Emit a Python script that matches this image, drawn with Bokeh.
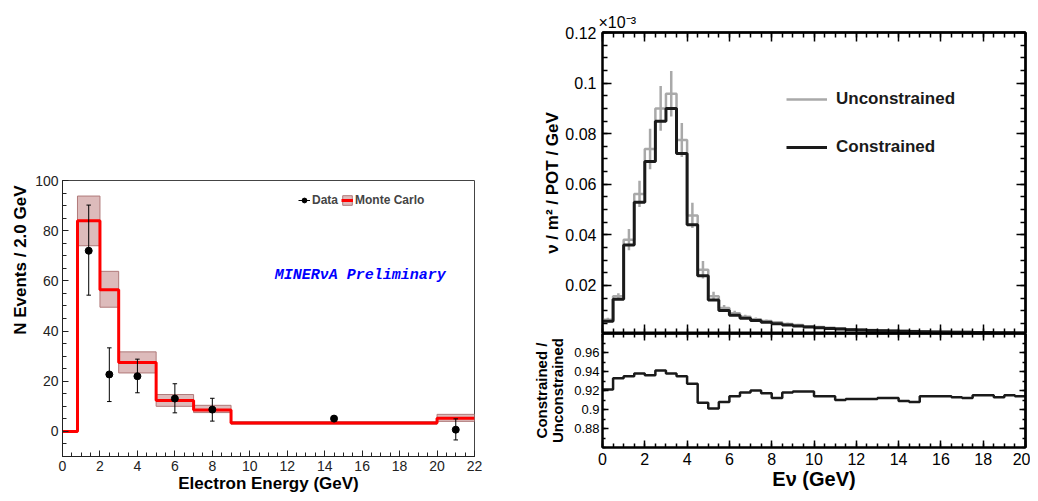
import math
from bokeh.plotting import figure
from bokeh.models import (FixedTicker, LinearAxis, Legend, LegendItem, Range1d, Title, Label)
from bokeh.layouts import row, column
from bokeh.embed import file_html
from bokeh.resources import INLINE

# ---------------- Left panel: electron energy ----------------
mc_edges = [0, 0.8, 2, 3, 5, 7, 9, 20, 22]
mc_values = [0, 84.0, 56.5, 27.5, 12.3, 8.5, 3.4, 5.2]
mc_band_lo = [0, 74.0, 49.5, 23.3, 10.0, 7.5, 2.9, 4.0]
mc_band_hi = [0, 93.8, 63.8, 31.7, 14.7, 10.4, 3.9, 6.8]
data_x = [1.4, 2.5, 4.0, 6.0, 8.0, 14.5, 21.0]
data_y = [72.0, 22.7, 22.0, 13.1, 8.7, 5.1, 0.7]
data_lo = [54.3, 11.9, 15.4, 7.4, 4.1, 4.2, -3.4]
data_hi = [90.2, 33.3, 28.8, 19.0, 13.2, 6.0, 5.0]
left_xticks = [0, 2, 4, 6, 8, 10, 12, 14, 16, 18, 20, 22]
left_yticks = [0, 20, 40, 60, 80, 100]

# ---------------- Right panel: flux ----------------
nu_edges = [0.0, 0.5, 1.0, 1.5, 2.0, 2.5, 3.0, 3.5, 4.0, 4.5, 5.0, 5.5, 6.0, 6.5,
            7.0, 7.5, 8.0, 8.5, 9.0, 9.5, 10.0, 10.5, 11.0, 11.5, 12.0, 12.5, 13.0,
            13.5, 14.0, 14.5, 15.0, 15.5, 16.0, 16.5, 17.0, 17.5, 18.0, 18.5, 19.0,
            19.5, 20.0]
constrained = [0.0058, 0.0145, 0.0360, 0.0529, 0.0690, 0.0849, 0.0900, 0.0722, 0.0440,
               0.0238, 0.0142, 0.0101, 0.0082, 0.0070, 0.0061, 0.0054, 0.0049, 0.0044,
               0.0040, 0.0036, 0.0033, 0.0030, 0.0028, 0.0025, 0.0024, 0.0022, 0.0021,
               0.0020, 0.0019, 0.0018, 0.0017, 0.0016, 0.0016, 0.0015, 0.0015, 0.0014,
               0.0014, 0.0013, 0.0013, 0.0012]
unconstrained = [0.0064, 0.0157, 0.0381, 0.0562, 0.0739, 0.0900, 0.0958, 0.0775, 0.0477,
                 0.0262, 0.0157, 0.0111, 0.0090, 0.0076, 0.0066, 0.0059, 0.0054, 0.0048,
                 0.0044, 0.0039, 0.0036, 0.0033, 0.0031, 0.0027, 0.0026, 0.0024, 0.0023,
                 0.0022, 0.0021, 0.0020, 0.0019, 0.0018, 0.0017, 0.0016, 0.0016, 0.0015,
                 0.0015, 0.0014, 0.0014, 0.0013]
unconstrained_err = [0.0008, 0.0012, 0.0042, 0.0052, 0.0080, 0.0088, 0.0090, 0.0067, 0.0050,
                     0.0035, 0.0018, 0.0012, 0.0010, 0.0008, 0.0007, 0.0006, 0.0005, 0.0005,
                     0.0004, 0.0004, 0.0004, 0.0003, 0.0003, 0.0003, 0.0003, 0.0003, 0.0003,
                     0.0002, 0.0002, 0.0002, 0.0002, 0.0002, 0.0002, 0.0002, 0.0002, 0.0002,
                     0.0002, 0.0002, 0.0002, 0.0002]
ratio = [0.921, 0.933, 0.935, 0.938, 0.936, 0.941, 0.938, 0.935, 0.927, 0.907,
         0.901, 0.908, 0.914, 0.918, 0.920, 0.917, 0.912, 0.918, 0.919, 0.919,
         0.914, 0.914, 0.910, 0.911, 0.911, 0.911, 0.912, 0.912, 0.909, 0.908,
         0.914, 0.914, 0.914, 0.913, 0.912, 0.915, 0.915, 0.913, 0.915, 0.914]
right_xticks = [0, 2, 4, 6, 8, 10, 12, 14, 16, 18, 20]
flux_yticks = [0.02, 0.04, 0.06, 0.08, 0.1, 0.12]
flux_ylabels = ["0.02", "0.04", "0.06", "0.08", "0.1", "0.12"]
ratio_yticks = [0.88, 0.9, 0.92, 0.94, 0.96]
ratio_ylabels = ["0.88", "0.9", "0.92", "0.94", "0.96"]

FONT = "Liberation Sans"
x_minor = [i * 0.5 for i in range(41)]
flux_minor = [0.005 * i for i in range(1, 25)]
ratio_minor = [0.86 + 0.01 * i for i in range(13)]


def style_axis(ax, major_in, minor_in, size, standoff, color="black", lw=1.0, tlw=1.0):
    ax.major_tick_in = major_in
    ax.major_tick_out = 0
    ax.minor_tick_in = minor_in
    ax.minor_tick_out = 0
    ax.major_label_text_font = FONT
    ax.major_label_text_font_size = size
    ax.major_label_text_color = color
    ax.major_label_standoff = standoff
    ax.axis_line_color = color
    ax.axis_line_width = lw
    ax.major_tick_line_color = color
    ax.minor_tick_line_color = color
    ax.major_tick_line_width = tlw
    ax.minor_tick_line_width = tlw
    ax.axis_label_text_font = FONT
    ax.axis_label_text_font_style = "bold"
    ax.axis_label_text_color = color


def tick_only(p, side, majors, minors, major_len, minor_len):
    # label-free axes: majors and minors drawn as two minor-tick sets of different length
    for pos, ln in ((majors, major_len), (minors, minor_len)):
        ax = LinearAxis(ticker=FixedTicker(ticks=[], minor_ticks=pos))
        style_axis(ax, 0, ln, "13px", 0, lw=2, tlw=1.5)
        p.add_layout(ax, side)


# =============== Left figure ===============
p1 = figure(width=530, height=500, x_range=Range1d(0, 22), y_range=Range1d(-10, 100),
            output_backend="svg", toolbar_location=None,
            min_border_left=62, min_border_right=56, min_border_top=180, min_border_bottom=44)
p1.xgrid.visible = False
p1.ygrid.visible = False
p1.outline_line_color = "#444444"
p1.outline_line_width = 1

p1.xaxis.ticker = FixedTicker(ticks=left_xticks, minor_ticks=[i * 0.5 for i in range(45)])
p1.yaxis.ticker = FixedTicker(ticks=left_yticks, minor_ticks=[-10 + 5 * i for i in range(23)])
style_axis(p1.xaxis[0], 6, 4, "14px", 4, color="#222222")
style_axis(p1.yaxis[0], 6, 4, "14px", 4, color="#222222")
p1.xaxis.axis_label = "Electron Energy (GeV)"
p1.xaxis.axis_label_text_font_size = "17px"
p1.xaxis.axis_label_standoff = 0
p1.xaxis.axis_label_text_color = "black"

band = p1.quad(left=mc_edges[1:-1], right=mc_edges[2:], bottom=mc_band_lo[1:], top=mc_band_hi[1:],
               fill_color="#d4aaaa", fill_alpha=0.8, line_color="#b07a7a", line_width=1)
mc_line = p1.step(x=mc_edges, y=mc_values + [mc_values[-1]], mode="after",
                  line_color="#ff0000", line_width=3)
err = p1.segment(x0=data_x, y0=data_lo, x1=data_x, y1=data_hi, line_color="black", line_width=1)
caps_x0 = [x - 0.12 for x in data_x]
caps_x1 = [x + 0.12 for x in data_x]
p1.segment(x0=caps_x0, y0=data_lo, x1=caps_x1, y1=data_lo, line_color="black", line_width=1)
p1.segment(x0=caps_x0, y0=data_hi, x1=caps_x1, y1=data_hi, line_color="black", line_width=1)
pts = p1.scatter(x=data_x, y=data_y, size=7, marker="circle", fill_color="black", line_color="black")

leg1 = Legend(items=[LegendItem(label="Data", renderers=[err, pts]),
                     LegendItem(label="Monte Carlo", renderers=[band, mc_line])],
              orientation="horizontal", location=(236, 249),
              glyph_width=12, glyph_height=12, label_height=12, label_width=10,
              label_standoff=2, spacing=3, padding=0, margin=0,
              border_line_alpha=0, background_fill_alpha=0,
              label_text_font=FONT, label_text_font_size="12px", label_text_font_style="bold")
p1.add_layout(leg1)

p1.add_layout(Label(x=15.9, y=62, text="MINERνA Preliminary", text_align="center",
                    text_baseline="middle", text_font="Liberation Mono",
                    text_font_style="bold italic", text_font_size="15px", text_color="#0000ff"))
p1.add_layout(Title(text="N Events / 2.0 GeV", align="right", offset=5, standoff=5,
                    text_font=FONT, text_font_size="17px", text_font_style="bold",
                    text_color="black"), "left")

# =============== Right top figure ===============
p2 = figure(width=500, height=333, x_range=Range1d(0, 20), y_range=Range1d(0.001, 0.12),
            output_backend="svg", toolbar_location=None, x_axis_location=None,
            min_border_left=68, min_border_right=5, min_border_top=32, min_border_bottom=0)
p2.xgrid.visible = False
p2.ygrid.visible = False
p2.outline_line_color = "black"
p2.outline_line_width = 2

p2.yaxis.ticker = FixedTicker(ticks=flux_yticks, minor_ticks=flux_minor)
p2.yaxis.major_label_overrides = dict(zip(flux_yticks, flux_ylabels))
style_axis(p2.yaxis[0], 9, 5, "16px", 6, lw=2, tlw=1.5)
p2.yaxis.axis_label = "ν / m² / POT / GeV"
p2.yaxis.axis_label_text_font_size = "17px"
p2.yaxis.axis_label_standoff = 0
tick_only(p2, "right", flux_yticks, flux_minor, 9, 5)
tick_only(p2, "above", right_xticks, x_minor, 9, 5)
tick_only(p2, "below", right_xticks, x_minor, 9, 5)

centers = [(nu_edges[i] + nu_edges[i + 1]) / 2 for i in range(len(unconstrained))]
unc_lo = [v - e for v, e in zip(unconstrained, unconstrained_err)]
unc_hi = [v + e for v, e in zip(unconstrained, unconstrained_err)]
gray = p2.step(x=nu_edges, y=unconstrained + [unconstrained[-1]], mode="after",
               line_color="#a9a9a9", line_width=2.5)
p2.segment(x0=centers, y0=unc_lo, x1=centers, y1=unc_hi, line_color="#a9a9a9", line_width=2.5)
black = p2.step(x=nu_edges, y=constrained + [constrained[-1]], mode="after",
                line_color="#1a1a1a", line_width=3)

leg2 = Legend(items=[LegendItem(label="Unconstrained", renderers=[gray]),
                     LegendItem(label="Constrained", renderers=[black])],
              location=(184, 176), glyph_width=41, glyph_height=20, label_height=20,
              label_standoff=9, spacing=28, padding=0, margin=0,
              border_line_alpha=0, background_fill_alpha=0,
              label_text_font=FONT, label_text_font_size="17px", label_text_font_style="bold",
              label_text_color="#1a1a1a")
p2.add_layout(leg2)

p2.add_layout(Title(text="×10⁻³", align="left", offset=-4, standoff=3,
                    text_font=FONT, text_font_size="16px", text_font_style="normal",
                    text_color="black"), "above")

# =============== Right bottom (ratio) figure ===============
p3 = figure(width=500, height=167, x_range=p2.x_range, y_range=Range1d(0.86, 0.98),
            output_backend="svg", toolbar_location=None,
            min_border_left=68, min_border_right=5, min_border_top=0, min_border_bottom=53)
p3.xgrid.visible = False
p3.ygrid.visible = False
p3.outline_line_color = "black"
p3.outline_line_width = 2

p3.xaxis.ticker = FixedTicker(ticks=right_xticks, minor_ticks=x_minor)
p3.yaxis.ticker = FixedTicker(ticks=ratio_yticks, minor_ticks=ratio_minor)
p3.yaxis.major_label_overrides = dict(zip(ratio_yticks, ratio_ylabels))
style_axis(p3.xaxis[0], 7, 4, "16px", 5, lw=2, tlw=1.5)
style_axis(p3.yaxis[0], 6, 3, "13px", 3, lw=2, tlw=1.5)
p3.xaxis.axis_label = "Eν (GeV)"
p3.xaxis.axis_label_text_font_size = "20px"
p3.xaxis.axis_label_standoff = 0
p3.yaxis.axis_label = "Constrained /\nUnconstrained"
p3.yaxis.axis_label_text_font_size = "15px"
p3.yaxis.axis_label_text_line_height = 0.95
p3.yaxis.axis_label_standoff = 5
tick_only(p3, "right", ratio_yticks, ratio_minor, 6, 3)
tick_only(p3, "above", right_xticks, x_minor, 7, 4)

p3.step(x=nu_edges, y=ratio + [ratio[-1]], mode="after", line_color="#1a1a1a", line_width=2.5)

layout = row(p1, column(p2, p3))
open("out.html", "w").write(file_html(layout, INLINE))
